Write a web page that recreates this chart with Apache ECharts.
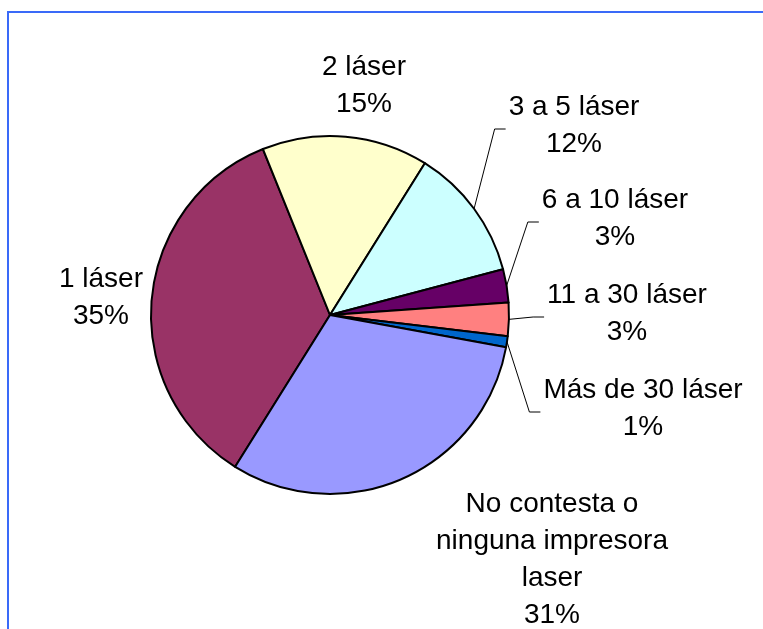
<!DOCTYPE html>
<html>
<head>
<meta charset="utf-8">
<title>Impresoras láser</title>
<script src="https://cdn.jsdelivr.net/npm/echarts@6/dist/echarts.min.js"></script>
<style>
html, body { margin: 0; padding: 0; background: #fff; overflow: hidden; }
#frame { position: absolute; left: 7px; top: 11px; width: 900px; height: 800px;
  border-top: 2px solid #3a6af8; border-left: 2px solid #3a6af8; }
#container { position: absolute; left: 0; top: 0; width: 763px; height: 629px; }
</style>
</head>
<body>
<div id="frame"></div>
<div id="container"></div>
<script type="text/javascript">
// categorias y porcentajes
var categorias = ['1 láser', '2 láser', '3 a 5 láser', '6 a 10 láser', '11 a 30 láser', 'Más de 30 láser', 'No contesta o\nninguna impresora\nlaser'];
var valores = [35, 15, 12, 3, 3, 1, 31];
var colores = ['#993366', '#ffffcc', '#ccffff', '#660066', '#ff8080', '#0066cc', '#9999ff'];
var conLinea = [false, false, true, true, true, true, false];

// centro de cada etiqueta (posiciones en pantalla)
var posEtiqueta = [[101, 298], [364, 86], [574, 126], [615, 219], [627, 314], [643, 409], [552, 560]];

var myChart = echarts.init(document.getElementById('container'));

var datos = categorias.map(function (c, i) {
	return {
		name: c,
		value: valores[i],
		itemStyle: { color: colores[i] },
		labelLine: { show: conLinea[i] }
	};
});

option = {
	animation: false,
	series: [{
		type: 'pie',
		center: [330, 315],
		radius: 179,
		startAngle: 238,
		clockwise: true,
		avoidLabelOverlap: false,
		itemStyle: { borderColor: '#000', borderWidth: 2 },
		label: {
			show: true,
			position: 'outside',
			formatter: '{b}\n{d}%',
			fontFamily: 'Liberation Sans, Arial, sans-serif',
			fontSize: 28,
			lineHeight: 37,
			color: '#000',
			align: 'center'
		},
		labelLine: {
			show: true,
			length: 10,
			length2: 10,
			smooth: false,
			lineStyle: { color: '#000', width: 1 }
		},
		labelLayout: function (params) {
			var i = params.dataIndex;
			var p = posEtiqueta[i];
			var res = { x: p[0], y: p[1], align: 'center', verticalAlign: 'middle' };
			if (conLinea[i] && params.labelLinePoints) {
				var izq = p[0] - params.labelRect.width / 2;
				var yl = p[1] + 3;
				res.labelLinePoints = [
					params.labelLinePoints[0],
					[izq - 14, yl],
					[izq - 3, yl]
				];
			}
			return res;
		},
		data: datos
	}]
};
myChart.setOption(option);
</script>
</body>
</html>
